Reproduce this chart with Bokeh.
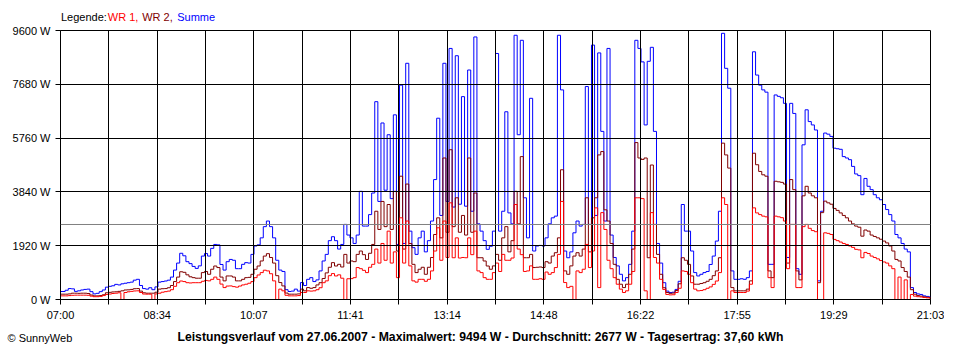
from bokeh.plotting import figure
from bokeh.layouts import column
from bokeh.models import Range1d, FixedTicker, Span, Label
from bokeh.embed import file_html
from bokeh.resources import INLINE

# ---- data (3-minute samples from 07:00 to 21:03), values in W ----
sample_seconds = 180

summe = [
    285, 285, 330, 390, 380, 290, 310, 340, 360, 370,
    280, 200, 220, 280, 340, 440, 470, 490, 540, 520,
    560, 580, 600, 620, 690, 720, 500, 390, 370, 420,
    350, 450, 620, 640, 660, 690, 800, 1050, 1300, 1650,
    1560, 1350, 1280, 1180, 1110, 1200, 1550, 1640, 1550, 1825,
    1965, 1950, 1250, 1050, 1350, 1430, 1400, 1100, 1100, 1255,
    1315, 1300, 1610, 1910, 1950, 2200, 2600, 2800, 2600, 2200,
    1400, 1050, 1000, 350, 285, 300, 370, 300, 605, 500,
    720, 780, 640, 700, 1020, 1375, 1610, 2100, 2240, 2100,
    1800, 1965, 2680, 2300, 2200, 2000, 2300, 3860, 2620, 2620,
    3030, 3800, 7060, 3500, 6300, 3900, 5880, 3600, 6590, 1965,
    7650, 2000, 8430, 2440, 1850, 1610, 2200, 2440, 1700, 2100,
    2800, 4280, 6470, 3000, 8430, 3500, 8960, 3300, 8700, 3400,
    7240, 3330, 8190, 3150, 9370, 2700, 2440, 2100, 1790, 1900,
    2440, 8780, 2440, 3150, 6700, 3090, 2700, 9430, 5880, 9250,
    3630, 2200, 7180, 1730, 1910, 1930, 1910, 2200, 2700, 2915,
    2975, 9430, 7480, 1730, 1490, 1700, 2380, 2800, 2620, 2680,
    7600, 2680, 9080, 3000, 8800, 6000, 2800, 8960, 2300, 1500,
    1200, 900, 665, 780, 1255, 2440, 9250, 8960, 8480, 6230,
    8500, 9000, 6000, 2000, 1300, 600, 300, 250, 260, 360,
    650, 3390, 2440, 2440, 1730, 960, 840, 900, 960, 1000,
    1250, 1550, 2085, 3150, 9500, 8250, 7540, 1020, 720, 720,
    740, 720, 780, 1020, 8840, 8010, 7650, 7480, 7400, 1255,
    1255, 7300, 7250, 7200, 7000, 1500, 7000, 6640, 1100, 900,
    5520, 6770, 6350, 6230, 6050, 665, 3150, 5940, 5900, 5820,
    5400, 5380, 5360, 5100, 5050, 4990, 4750, 4480, 4420, 3740,
    4320, 4040, 3920, 3740, 3630, 3560, 3390, 3210, 3030, 2800,
    2320, 2200, 2000, 1800, 1700, 425, 250, 200, 180, 130,
    110, 95,
]

wr2 = [
    190, 190, 190, 200, 225, 225, 220, 225, 225, 215,
    160, 130, 130, 140, 170, 240, 255, 270, 275, 290,
    310, 340, 345, 360, 385, 390, 300, 240, 225, 225,
    225, 260, 370, 385, 390, 420, 500, 640, 800, 990,
    970, 880, 810, 780, 760, 760, 960, 1000, 900, 1080,
    1195, 1140, 800, 665, 840, 840, 800, 665, 665, 720,
    780, 790, 900, 1080, 1195, 1375, 1550, 1635, 1500, 1300,
    850, 605, 485, 230, 190, 190, 190, 200, 370, 310,
    425, 400, 425, 520, 600, 750, 950, 1150, 1315, 1195,
    1255, 1160, 1610, 1300, 1375, 1350, 1610, 1730, 1600, 1430,
    1650, 1965, 3150, 2500, 3500, 2600, 3390, 2500, 3860, 1730,
    4400, 1800, 4120, 2000, 1255, 960, 1080, 1150, 900, 1150,
    1500, 2320, 2915, 2200, 5050, 2400, 5345, 2600, 3630, 2400,
    3000, 2300, 5050, 2400, 3800, 1490, 1490, 1375, 1195, 1080,
    1200, 1610, 1400, 2200, 2600, 1700, 2100, 3860, 2700, 5100,
    1490, 1490, 1610, 1140, 1150, 1160, 1140, 1350, 1300, 1550,
    1670, 2200, 4630, 1020, 900, 1200, 1550, 1670, 1550, 1800,
    3630, 1700, 2915, 3630, 5160, 5280, 3200, 2800, 2000, 1255,
    720, 545, 425, 545, 900, 1800, 5600, 5050, 5000, 5050,
    1490, 4800, 2680, 1610, 900, 420, 250, 220, 230, 320,
    560, 1490, 1400, 1255, 840, 545, 545, 570, 600, 650,
    720, 850, 1020, 1490, 5580, 5160, 4690, 425, 310, 310,
    310, 310, 370, 665, 5220, 4810, 4570, 4450, 4400, 1020,
    780, 4220, 4200, 4180, 4120, 1300, 4280, 3920, 1020, 700,
    3700, 4040, 3800, 3700, 3630, 600, 3100, 3510, 3450, 3400,
    3250, 3180, 3090, 3000, 2915, 2800, 2700, 2620, 2580, 2260,
    2480, 2440, 2300, 2250, 2200, 2150, 2085, 2020, 1910, 1730,
    1430, 1375, 1140, 1000, 800, 350, 190, 140, 120, 95,
    80, 70,
]

wr1 = [
    130, 130, 130, 140, 150, 155, 155, 155, 155, 150,
    120, 100, 100, 110, 140, 180, 195, 215, 225, 240,
    0, 250, 275, 290, 305, 310, 250, 195, 190, 190,
    0, 200, 225, 260, 280, 300, 350, 470, 600, 660,
    640, 600, 590, 600, 600, 600, 650, 680, 665, 720,
    800, 720, 550, 425, 480, 485, 460, 440, 480, 520,
    545, 580, 640, 780, 875, 960, 1045, 1020, 920, 665,
    0, 370, 310, 150, 130, 130, 130, 140, 250, 250,
    310, 300, 310, 350, 420, 600, 665, 850, 925, 840,
    880, 760, 0, 740, 745, 780, 1140, 1100, 1040, 960,
    1150, 1255, 1800, 1300, 2000, 1400, 2440, 1300, 1700, 780,
    2915, 1300, 2800, 1200, 665, 620, 720, 720, 650, 720,
    1020, 1730, 2560, 1400, 2800, 1500, 3450, 1490, 2200, 1480,
    1500, 1490, 2200, 1600, 2440, 1020, 960, 780, 720, 720,
    960, 1300, 1000, 1610, 1400, 1400, 1480, 3390, 1800, 1600,
    1000, 1020, 1200, 720, 720, 740, 720, 980, 900, 960,
    1140, 1610, 3500, 605, 425, 470, 0, 1020, 960, 1080,
    1965, 1140, 1730, 3270, 425, 3100, 2500, 1400, 1100, 780,
    545, 370, 250, 310, 545, 1000, 3630, 3630, 3600, 310,
    0, 3100, 1500, 1300, 720, 360, 180, 165, 170, 250,
    400, 1020, 1000, 900, 600, 370, 310, 320, 350, 400,
    450, 540, 660, 960, 3630, 3390, 0, 310, 250, 250,
    250, 250, 300, 545, 3270, 3090, 3030, 2975, 2950, 780,
    425, 2975, 2950, 2920, 2800, 1100, 2680, 2680, 425, 425,
    2600, 2680, 2540, 2460, 2420, 0, 0, 2380, 2360, 2320,
    2145, 2100, 2050, 2000, 1965, 1910, 1860, 1790, 1770, 1490,
    1680, 1640, 1550, 1500, 1450, 1390, 1340, 1300, 1200, 1100,
    0, 800, 0, 700, 0, 180, 120, 100, 90, 70,
    60, 50,
]

times = [sample_seconds * i for i in range(len(summe))]

x_tick_labels = ["07:00", "08:34", "10:07", "11:41", "13:14",
                 "14:48", "16:22", "17:55", "19:29", "21:03"]
y_tick_values = [0, 1920, 3840, 5760, 7680, 9600]
y_tick_labels = ["0 W", "1920 W", "3840 W", "5760 W", "7680 W", "9600 W"]
average_w = 2677
legend_parts = [("Legende:", "black"), ("WR 1,", "#FF0000"),
                ("WR 2,", "#800000"), ("Summe", "#0000FF")]
title_text = ("Leistungsverlauf vom 27.06.2007 - Maximalwert: 9494 W - "
              "Durchschnitt: 2677 W - Tagesertrag: 37,60 kWh")
copyright_text = "\u00a9 SunnyWeb"

FONT = "Liberation Sans"
W = 944
TOP_H = 24
MAIN_H = 300
BOT_H = 20

total_seconds = 843 * 60
grid_step = total_seconds // 18
x_ticks = [grid_step * k for k in range(19)]
x_overrides = {t: (x_tick_labels[k // 2] if k % 2 == 0 else "") for k, t in enumerate(x_ticks)}


def text_strip(height):
    f = figure(width=W, height=height, x_range=Range1d(0, W), y_range=Range1d(height, 0),
               output_backend="svg", toolbar_location=None, min_border=0,
               x_axis_location=None, y_axis_location=None, frame_align=False)
    f.outline_line_color = None
    f.grid.visible = False
    f.background_fill_color = "white"
    f.border_fill_color = "white"
    return f


# ---- legend strip ----
top = text_strip(TOP_H)
legend_x = [60.5, 107.3, 141.7, 176.7]
for (txt, col), lx in zip(legend_parts, legend_x):
    top.add_layout(Label(x=lx, y=16.5, text=txt, text_color=col, text_font=FONT,
                         text_font_size="11px", text_baseline="middle", text_align="left"))

# ---- main chart ----
p = figure(width=W, height=MAIN_H, x_range=Range1d(0, total_seconds),
           y_range=Range1d(0, 9600), output_backend="svg", toolbar_location=None,
           min_border_left=60, min_border_right=14, min_border_top=6,
           min_border_bottom=25, frame_align=False)
p.background_fill_color = "white"
p.border_fill_color = "white"
p.outline_line_color = "black"

p.step(times, summe, mode="center", line_color="#0000FF", line_width=1)
p.step(times, wr2, mode="center", line_color="#800000", line_width=1)
p.step(times, wr1, mode="center", line_color="#FF0000", line_width=1)

xt = FixedTicker(ticks=x_ticks, minor_ticks=[])
yt = FixedTicker(ticks=y_tick_values, minor_ticks=[])
p.xaxis.ticker = xt
p.yaxis.ticker = yt
p.xaxis.major_label_overrides = x_overrides
p.yaxis.major_label_overrides = {v: l for v, l in zip(y_tick_values, y_tick_labels)}
for ax in (p.xaxis[0], p.yaxis[0]):
    ax.major_tick_out = 5
    ax.major_tick_in = 0
    ax.minor_tick_line_color = None
    ax.axis_line_color = "black"
    ax.major_tick_line_color = "black"
    ax.major_label_text_font = FONT
    ax.major_label_text_font_size = "11px"
    ax.major_label_text_color = "black"
p.xaxis.major_label_standoff = 4
p.yaxis.major_label_standoff = 5

for g in (p.xgrid[0], p.ygrid[0]):
    g.grid_line_color = "black"
    g.grid_line_alpha = 1.0
    g.grid_line_width = 1
    g.level = "annotation"
p.xgrid.ticker = xt
p.ygrid.ticker = yt

p.add_layout(Span(location=average_w, dimension="width", line_color="#808080", line_width=1))

# ---- bottom strip ----
bot = text_strip(BOT_H)
bot.add_layout(Label(x=480, y=12.5, text=title_text, text_color="black", text_font=FONT,
                     text_font_size="12.2px", text_font_style="bold",
                     text_baseline="middle", text_align="center"))
bot.add_layout(Label(x=7, y=13.5, text=copyright_text, text_color="black", text_font=FONT,
                     text_font_size="11px", text_baseline="middle", text_align="left"))

layout = column(top, p, bot, spacing=0)
open("out.html", "w").write(file_html(layout, INLINE))
